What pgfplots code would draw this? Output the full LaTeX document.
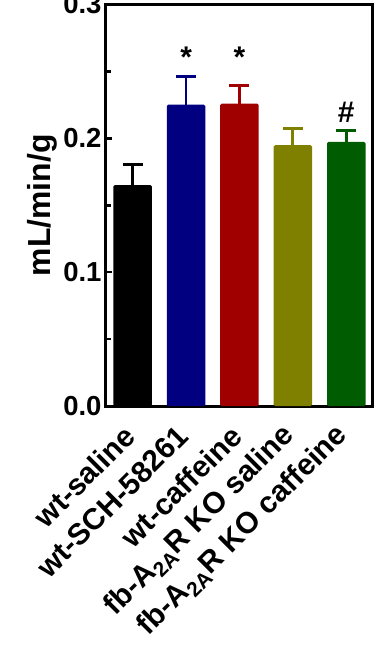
\documentclass[border=0pt]{standalone}
\usepackage{pgfplots}
\pgfplotsset{compat=1.18}
\usepackage{fontspec}
\setmainfont{Liberation Sans}
\definecolor{cnavy}{HTML}{000080}
\definecolor{cred}{HTML}{A00000}
\definecolor{colive}{HTML}{808000}
\definecolor{cgreen}{HTML}{005C00}
\begin{document}
\begin{tikzpicture}
\path[use as bounding box] (-106bp,-239bp) rectangle (270bp,406bp);
\begin{axis}[
  scale only axis,
  width=267bp, height=401.5bp,
  xmin=0.5, xmax=5.5, ymin=0, ymax=0.3,
  axis line style={line width=3bp},
  ytick={0,0.1,0.2,0.3},
  minor ytick={0.05,0.15,0.25},
  ytick pos=left,
  tick align=inside,
  major tick length=6bp, minor tick length=5bp,
  every tick/.style={line width=2.5bp, black},
  /pgf/number format/fixed,
  /pgf/number format/fixed zerofill,
  /pgf/number format/precision=1,
  /pgf/number format/assume math mode=true,
  yticklabel style={font=\fontsize{27.6}{30}\selectfont\bfseries, xshift=-1bp},
  xtick={1,2,3,4,5},
  xtick pos=bottom,
  xtick style={draw=none},
  xticklabels={wt-saline, wt-SCH-58261, wt-caffeine, fb-A\textsubscript{2A}R KO saline, fb-A\textsubscript{2A}R KO caffeine},
  xticklabel style={yshift=-25bp, xshift=-3bp, rotate=45, anchor=east, font=\fontsize{30}{32}\selectfont\bfseries, inner sep=0pt},
  ylabel={mL/min/g},
  ylabel style={at={(axis description cs:-0.2097,0.5)}, anchor=base, font=\fontsize{32}{34}\selectfont\bfseries, inner sep=0pt},
  clip=false,
]
\addplot[ybar, bar shift=0pt, bar width=38.5bp, fill=black, draw=none, rounded corners=1.5bp,
  error bars/.cd, y dir=plus, y explicit,
  error bar style={line width=2.8bp, black},
  error mark options={rotate=90, line width=3bp, mark size=10bp, black}]
  coordinates {(1,0.1651) +- (0,0.0157)};
\addplot[ybar, bar shift=0pt, bar width=38.5bp, fill=cnavy, draw=none, rounded corners=1.5bp,
  error bars/.cd, y dir=plus, y explicit,
  error bar style={line width=2.8bp, cnavy},
  error mark options={rotate=90, line width=3bp, mark size=10bp, cnavy}]
  coordinates {(2,0.2252) +- (0,0.0211)};
\addplot[ybar, bar shift=0pt, bar width=38.5bp, fill=cred, draw=none, rounded corners=1.5bp,
  error bars/.cd, y dir=plus, y explicit,
  error bar style={line width=2.8bp, cred},
  error mark options={rotate=90, line width=3bp, mark size=10bp, cred}]
  coordinates {(3,0.2259) +- (0,0.0137)};
\addplot[ybar, bar shift=0pt, bar width=38.5bp, fill=colive, draw=none, rounded corners=1.5bp,
  error bars/.cd, y dir=plus, y explicit,
  error bar style={line width=2.8bp, colive},
  error mark options={rotate=90, line width=3bp, mark size=10bp, colive}]
  coordinates {(4,0.1949) +- (0,0.0124)};
\addplot[ybar, bar shift=0pt, bar width=38.5bp, fill=cgreen, draw=none, rounded corners=1.5bp,
  error bars/.cd, y dir=plus, y explicit,
  error bar style={line width=2.8bp, cgreen},
  error mark options={rotate=90, line width=3bp, mark size=10bp, cgreen}]
  coordinates {(5,0.1974) +- (0,0.0082)};
\addplot[draw=none, mark=none, nodes near coords, point meta=explicit symbolic,
  every node near coord/.style={anchor=base, inner sep=0pt, yshift=0pt, font=\fontsize{30}{32}\selectfont\bfseries, black}]
  coordinates {(2,0.253) [*] (3,0.253) [*] (5,0.2118) [\#]};
\end{axis}
\end{tikzpicture}
\end{document}
